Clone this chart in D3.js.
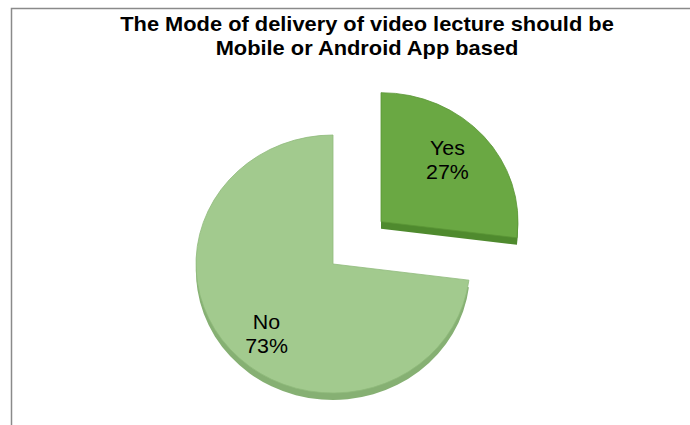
<!DOCTYPE html>
<html>
<head>
<meta charset="utf-8">
<script src="https://cdn.jsdelivr.net/npm/d3@7"></script>
<style>
  html, body { margin: 0; padding: 0; background: #fff; }
  svg { display: block; }
</style>
</head>
<body>
<div id="chart"></div>
<script>
// chart data
const categories = ['Yes', 'No'];
const shares = [27, 73];
const titleLines = ['The Mode of delivery of video lecture should be', 'Mobile or Android App based'];

const W = 690, H = 425;
const cx = 333, cy = 264;      // pie centre
const rx = 137, ry = 129;      // elliptical (tilted) pie
const depth = 7;               // thickness of the 3d edge
const explode = [64, 0];       // how far each slice is pulled out
const stretch = 1.12;          // text in the original is a bit wide
const labelR = 91;             // label distance from slice centre
const labelTurn = -0.09;       // labels sit a little anticlockwise of mid angle

const topColors = ['#6aa843', '#a2ca8e'];
const sideColors = ['#4f8a2e', '#86b073'];
const edgeColors = ['#5a9636', '#8fba7b'];

const svg = d3.select('#chart').append('svg')
  .attr('width', W).attr('height', H);

// frame: only the top and left edges show in the picture
svg.append('rect')
  .attr('x', 11.5).attr('y', 8.5)
  .attr('width', W + 20).attr('height', H + 20)
  .attr('fill', 'none')
  .attr('stroke', '#8a8a8a')
  .attr('stroke-width', 1.5);

// title
svg.append('text')
  .attr('transform', `translate(367,0) scale(${stretch},1)`)
  .attr('text-anchor', 'middle')
  .attr('font-family', 'Liberation Sans, Arial, sans-serif')
  .attr('font-weight', 'bold')
  .attr('font-size', 19.5)
  .attr('fill', '#000')
  .selectAll('tspan')
  .data(titleLines)
  .join('tspan')
  .attr('x', 0)
  .attr('y', (d, i) => 31.5 + i * 23.5)
  .text(d => d);

const pie = d3.pie().sort(null).value(d => d)(shares);
const arc = d3.arc().innerRadius(0).outerRadius(ry);

const sx = rx / ry;

function offset(d, i) {
  const mid = (d.startAngle + d.endAngle) / 2;
  return [Math.sin(mid) * explode[i], -Math.cos(mid) * explode[i]];
}

const slices = svg.selectAll('g.slice')
  .data(pie)
  .join('g')
  .attr('class', 'slice')
  .attr('transform', (d, i) => {
    const o = offset(d, i);
    return `translate(${cx + o[0]},${cy + o[1]})`;
  });

// side (thickness)
slices.append('path')
  .attr('transform', `translate(0,${depth}) scale(${sx},1)`)
  .attr('d', arc)
  .attr('fill', (d, i) => sideColors[i]);

// top face
slices.append('path')
  .attr('transform', `scale(${sx},1)`)
  .attr('d', arc)
  .attr('fill', (d, i) => topColors[i])
  .attr('stroke', (d, i) => edgeColors[i])
  .attr('stroke-width', 0.8)
  .attr('vector-effect', 'non-scaling-stroke');

// labels
slices.append('text')
  .attr('transform', d => {
    const a = (d.startAngle + d.endAngle) / 2 + labelTurn;
    const x = Math.sin(a) * labelR * sx, y = -Math.cos(a) * labelR;
    return `translate(${x},${y}) scale(${stretch * 0.98},1)`;
  })
  .attr('text-anchor', 'middle')
  .attr('font-family', 'Liberation Sans, Arial, sans-serif')
  .attr('font-size', 19.5)
  .attr('fill', '#000')
  .each(function(d, i) {
    const t = d3.select(this);
    t.append('tspan').attr('x', 0).attr('y', -1).text(categories[i]);
    t.append('tspan').attr('x', 0).attr('y', 23).text(shares[i] + '%');
  });
</script>
</body>
</html>
